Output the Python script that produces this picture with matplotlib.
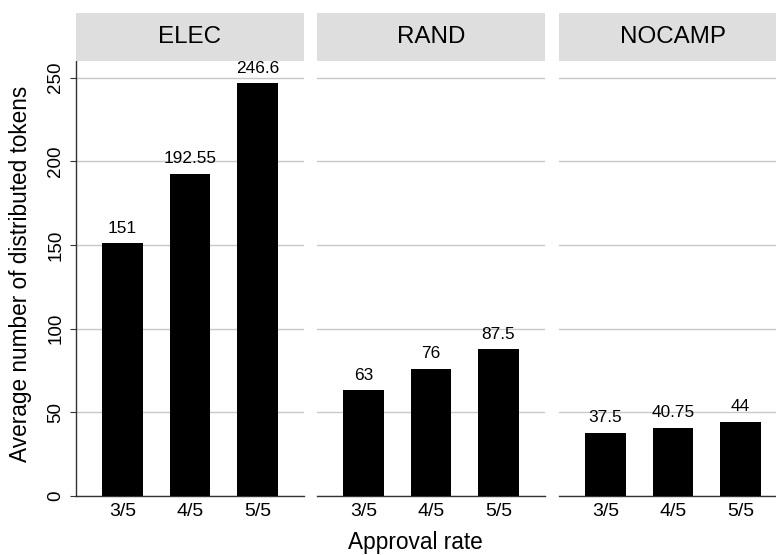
import matplotlib
matplotlib.use("Agg")
import matplotlib.pyplot as plt
from matplotlib.patches import Rectangle

plt.rcParams['font.family'] = ['Liberation Sans', 'DejaVu Sans']

panels = ["ELEC", "RAND", "NOCAMP"]
rates = ["3/5", "4/5", "5/5"]
values = {
    "ELEC": [151, 192.55, 246.6],
    "RAND": [63, 76, 87.5],
    "NOCAMP": [37.5, 40.75, 44],
}
labels = {
    "ELEC": ["151", "192.55", "246.6"],
    "RAND": ["63", "76", "87.5"],
    "NOCAMP": ["37.5", "40.75", "44"],
}
yticks = [0, 50, 100, 150, 200, 250]

W, H = 776, 555
fig = plt.figure(figsize=(W / 100, H / 100), dpi=100)

lefts = [76, 317, 559]
pw = 228
top_px, bot_px = 61, 495.7
strip_top = 12.7

for i, name in enumerate(panels):
    l = lefts[i]
    ax = fig.add_axes([l / W, 1 - bot_px / H, pw / W, (bot_px - top_px) / H])
    xs = list(range(1, len(rates) + 1))
    ax.bar(xs, values[name], width=0.6, color='black', zorder=3)
    for x, v, t in zip(xs, values[name], labels[name]):
        ax.annotate(t, (x, v), xytext=(0, 5.5), textcoords='offset points',
                    ha='center', va='bottom', fontsize=12.4, color='black', zorder=4)
    ax.set_xlim(0.31, 3.69)
    ax.set_ylim(0, 260)
    ax.set_yticks(yticks)
    ax.set_xticks(xs)
    ax.set_xticklabels(rates, fontsize=14)
    ax.yaxis.grid(True, color='#c8c8c8', linewidth=1.0, zorder=0)
    ax.xaxis.grid(False)
    for s in ['top', 'right']:
        ax.spines[s].set_visible(False)
    ax.spines['bottom'].set_color('#333333')
    ax.spines['bottom'].set_linewidth(1.0)
    ax.tick_params(axis='x', length=0, pad=5, colors='black')
    if i == 0:
        ax.spines['left'].set_color('#333333')
        ax.spines['left'].set_linewidth(1.0)
        ax.tick_params(axis='y', length=4.5, width=0.8, color='#333333', pad=4)
        ax.set_yticklabels([str(t) for t in yticks], rotation=90, va='center', fontsize=13.5)
    else:
        ax.spines['left'].set_visible(False)
        ax.tick_params(axis='y', length=0, labelleft=False)
    fig.add_artist(Rectangle((l / W, 1 - top_px / H), pw / W, (top_px - strip_top) / H,
                             transform=fig.transFigure, facecolor='#dedede', edgecolor='none'))
    fig.text((l + pw / 2) / W, 1 - (top_px + strip_top) / 2 / H, name,
             ha='center', va='center', fontsize=17.4, color='black')

fig.text(415 / W, 1 - 549 / H, "Approval rate", ha='center', va='baseline', fontsize=16.3)
fig.text(21 / W, 1 - 274 / H, "Average number of distributed tokens", rotation=90,
         ha='center', va='center', fontsize=16.3)

fig.savefig("out.png", dpi=100)
